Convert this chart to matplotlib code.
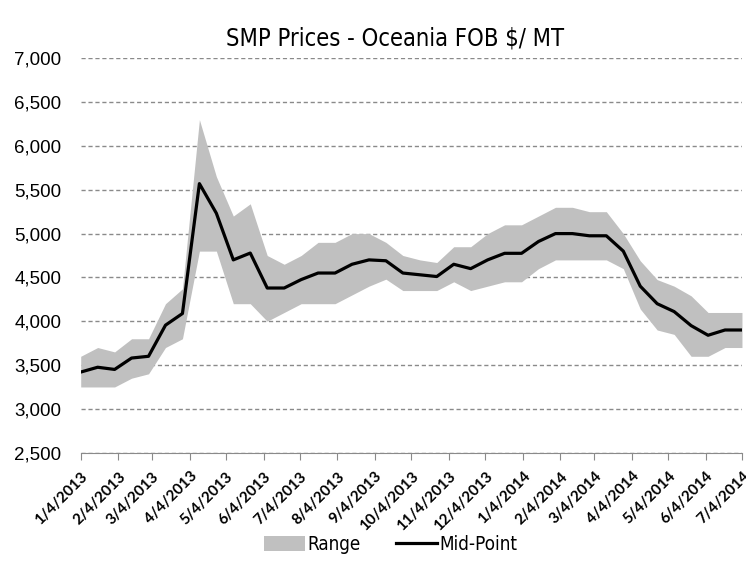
import datetime as dt
import numpy as np
import matplotlib
matplotlib.use("Agg")
from matplotlib import pyplot as plt
from matplotlib.patches import Patch
from matplotlib.lines import Line2D
from matplotlib.ticker import FuncFormatter
from matplotlib import font_manager

# biweekly auction dates, 4 Jan 2013 .. 4 Jul 2014
start = dt.date(2013, 1, 4)
dates = [start + dt.timedelta(days=14 * k) for k in range(40)]

mid = [3420, 3475, 3450, 3580, 3600, 3955, 4088, 5570, 5232, 4700,
       4778, 4379, 4379, 4475, 4550, 4550, 4650, 4700, 4690, 4550,
       4530, 4510, 4650, 4600, 4700, 4775, 4775, 4910, 5000, 5000,
       4975, 4975, 4800, 4400, 4200, 4110, 3950, 3840, 3900, 3900]
upper = [3600, 3700, 3650, 3800, 3800, 4200, 4370, 6300, 5650, 5200,
         5340, 4750, 4650, 4750, 4900, 4900, 5000, 5000, 4900, 4750,
         4700, 4670, 4850, 4850, 5000, 5100, 5100, 5200, 5300, 5300,
         5250, 5250, 5000, 4690, 4475, 4400, 4290, 4100, 4100, 4100]
lower = [3250, 3250, 3250, 3350, 3400, 3700, 3800, 4800, 4800, 4200,
         4200, 4000, 4100, 4200, 4200, 4200, 4300, 4400, 4480, 4350,
         4350, 4350, 4450, 4350, 4400, 4450, 4450, 4600, 4700, 4700,
         4700, 4700, 4600, 4140, 3900, 3850, 3600, 3600, 3700, 3700]

tick_dates = [dt.date(2013 + (m - 1) // 12, (m - 1) % 12 + 1, 4) for m in range(1, 20)]
tick_labels = [f"{d.month}/4/{d.year}" for d in tick_dates]

narrow = font_manager.FontProperties(family=["DejaVu Sans"], stretch="condensed")

fig = plt.figure(figsize=(7.46, 5.70), dpi=100)
ax = fig.add_axes([0.1082, 0.2058, 0.8864, 0.6919])

ax.fill_between(dates, lower, upper, color="#c0c0c0", linewidth=0)
ax.plot(dates, mid, color="black", linewidth=2.3)

ax.set_ylim(2500, 7000)
ax.set_yticks(np.arange(2500, 7001, 500))
ax.yaxis.set_major_formatter(FuncFormatter(lambda v, p: f"{int(v):,}"))
ax.set_xlim(dates[0], dates[-1])
ax.set_xticks(tick_dates)
ax.set_xticklabels(tick_labels, rotation=45, ha="right", rotation_mode="anchor",
                   fontsize=11, fontweight="bold", family=["Lato", "DejaVu Sans"])
for lab in ax.get_yticklabels():
    lab.set_family(["Liberation Sans", "DejaVu Sans"])
    lab.set_fontsize(13.5)

ax.grid(axis="y", linestyle=(0, (3, 2)), color="#8a8a8a", linewidth=1)
ax.set_axisbelow(True)
for s in ["top", "right", "left"]:
    ax.spines[s].set_visible(False)
ax.spines["bottom"].set_color("#8a8a8a")
ax.tick_params(axis="y", length=0, pad=14)
ax.tick_params(axis="x", length=5, color="#8a8a8a", pad=7)

title_fp = narrow.copy()
title_fp.set_size(17)
fig.text(0.53, 0.933, "SMP Prices - Oceania FOB $/ MT", ha="center", va="center",
         fontproperties=title_fp)

leg_fp = narrow.copy()
leg_fp.set_size(13.5)
handles = [Patch(facecolor="#c0c0c0", edgecolor="none"),
           Line2D([0], [0], color="black", linewidth=2.3)]
fig.legend(handles, ["Range", "Mid-Point"], loc="center", bbox_to_anchor=(0.524, 0.045),
           ncol=2, frameon=False, prop=leg_fp,
           handlelength=2.15, handleheight=0.8, columnspacing=1.9, handletextpad=0.15)

fig.savefig("out.png", dpi=100)
